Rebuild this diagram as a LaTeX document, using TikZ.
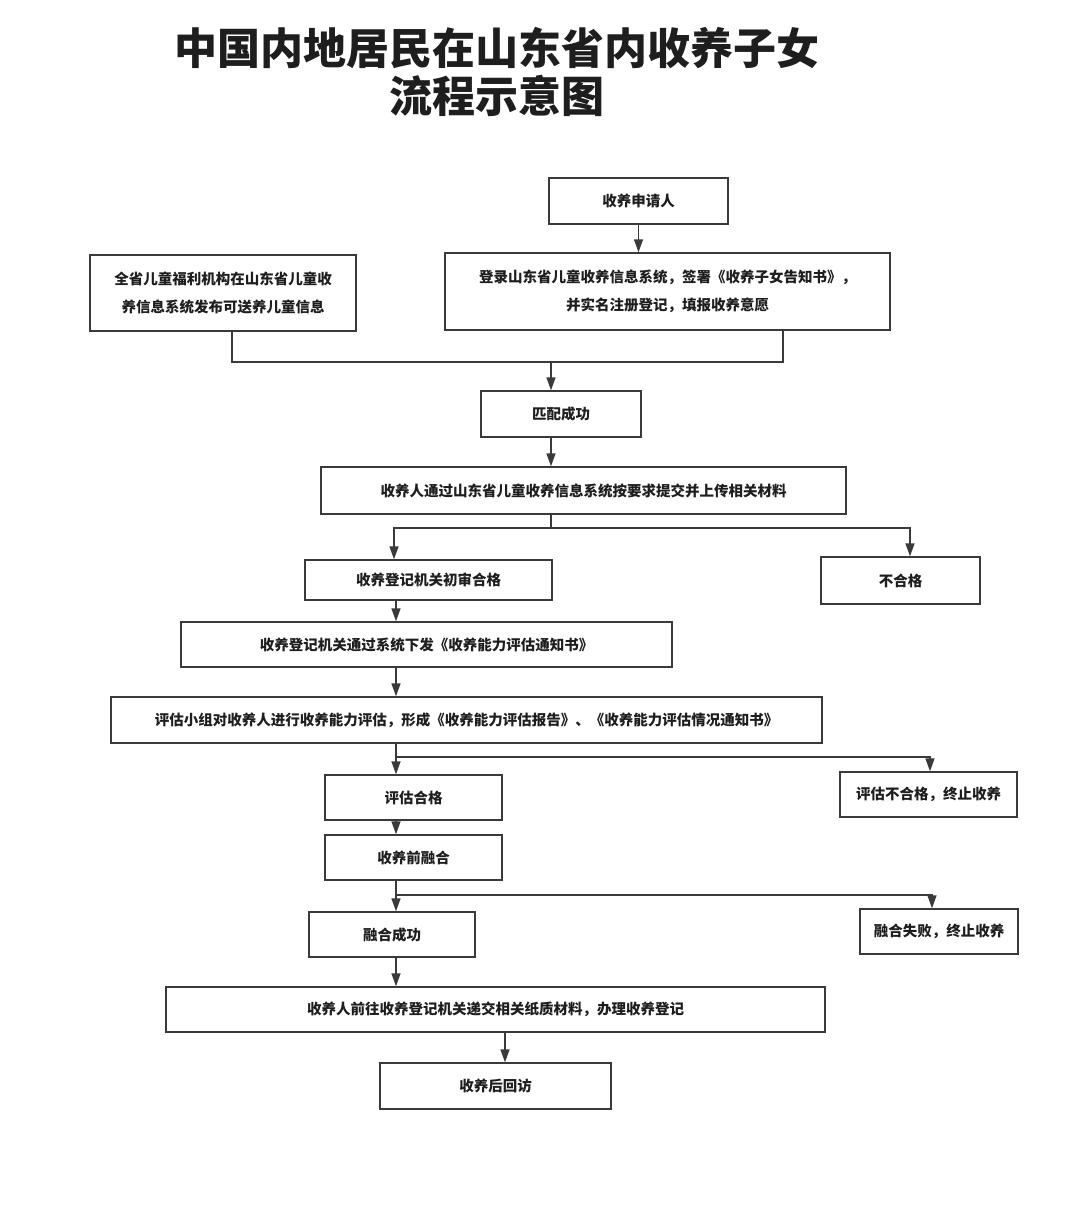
\documentclass[tikz,border=0pt]{standalone}
\usepackage{fontspec}
\newfontfamily\cjk{Noto Sans CJK SC}
\usetikzlibrary{arrows.meta}
\definecolor{linec}{HTML}{3A3A3A}
\definecolor{textc}{HTML}{1E1E1E}
\tikzset{
  box/.style={draw=linec, line width=1.4pt, rectangle, inner sep=0pt, align=center,
    text=textc, font=\cjk\bfseries\fontsize{14.5}{28}\selectfont},
  conn/.style={draw=linec, line width=1.4pt},
  arr/.style={conn, -{Triangle[length=13pt,width=9pt]}},
}
\begin{document}
\begin{tikzpicture}[x=1pt,y=-1pt]
\useasboundingbox[fill=white] (0,0) rectangle (1080,1210);
% title
\node[text=textc, font=\cjk\bfseries\fontsize{43}{48}\selectfont] (t1) at (497,48) {中国内地居民在山东省内收养子女};
\node[text=textc, font=\cjk\bfseries\fontsize{43}{48}\selectfont] (t2) at (497,96) {流程示意图};
% boxes
\node[box, minimum width=179pt, minimum height=46pt] (apply) at (638.5,201) {收养申请人};
\node[box, minimum width=266pt, minimum height=76pt] (left) at (223,293) {全省儿童福利机构在山东省儿童收\\养信息系统发布可送养儿童信息};
\node[box, minimum width=445pt, minimum height=77pt] (right) at (667.5,291.5) {登录山东省儿童收养信息系统，签署《收养子女告知书》，\\并实名注册登记，填报收养意愿};
\node[box, minimum width=160pt, minimum height=46pt] (match) at (561,414) {匹配成功};
\node[box, minimum width=525pt, minimum height=47pt] (upload) at (583.5,490.5) {收养人通过山东省儿童收养信息系统按要求提交并上传相关材料};
\node[box, minimum width=247pt, minimum height=40pt] (pass1) at (428.5,580) {收养登记机关初审合格};
\node[box, minimum width=159pt, minimum height=47pt] (fail1) at (900.5,580.5) {不合格};
\node[box, minimum width=491pt, minimum height=45pt] (notice) at (426.5,644.5) {收养登记机关通过系统下发《收养能力评估通知书》};
\node[box, minimum width=711pt, minimum height=46pt] (assess) at (466.5,720) {评估小组对收养人进行收养能力评估，形成《收养能力评估报告》、《收养能力评估情况通知书》};
\node[box, minimum width=177pt, minimum height=45pt] (ok2) at (413.5,797.5) {评估合格};
\node[box, minimum width=177pt, minimum height=45pt] (fail2) at (928.5,794.5) {评估不合格，终止收养};
\node[box, minimum width=177pt, minimum height=45pt] (pre) at (413.5,857.5) {收养前融合};
\node[box, minimum width=166pt, minimum height=45pt] (ok3) at (392,934.5) {融合成功};
\node[box, minimum width=158pt, minimum height=45pt] (fail3) at (939,931.5) {融合失败，终止收养};
\node[box, minimum width=659pt, minimum height=45pt] (register) at (495.5,1009.5) {收养人前往收养登记机关递交相关纸质材料，办理收养登记};
\node[box, minimum width=231pt, minimum height=46pt] (visit) at (495.5,1086) {收养后回访};
% column coordinates
\coordinate (cL) at (232,362);
\coordinate (cR) at (783,362);
\coordinate (cM) at (551,362);
\coordinate (s1) at (551,528);
\coordinate (c394) at (394,0);
\coordinate (c396) at (396,0);
\coordinate (c910) at (910,0);
\coordinate (s2) at (396,757);
\coordinate (c930) at (930,0);
\coordinate (s3) at (396,895);
\coordinate (c932) at (932,0);
\coordinate (c505) at (505,0);
% connectors
\draw[arr] (apply) -- (right.north -| apply);
\draw[conn] (left.south -| cL) -- (cL) -- (cR) -- (right.south -| cR);
\draw[arr] (cM) -- (match.north -| cM);
\draw[arr] (match.south -| cM) -- (upload.north -| cM);
\draw[conn] (upload.south -| s1) -- (s1);
\draw[arr] (s1) -| (pass1.north -| c394);
\draw[arr] (s1) -| (fail1.north -| c910);
\draw[arr] (pass1.south -| c396) -- (notice.north -| c396);
\draw[arr] (notice.south -| c396) -- (assess.north -| c396);
\draw[conn] (assess.south -| s2) -- (s2);
\draw[arr] (s2) -- (ok2.north -| s2);
\draw[arr] (s2) -| (fail2.north -| c930);
\draw[arr] (ok2.south -| c396) -- (pre.north -| c396);
\draw[conn] (pre.south -| s3) -- (s3);
\draw[arr] (s3) -- (ok3.north -| s3);
\draw[arr] (s3) -| (fail3.north -| c932);
\draw[arr] (ok3.south -| c396) -- (register.north -| c396);
\draw[arr] (register.south -| c505) -- (visit.north -| c505);
\end{tikzpicture}
\end{document}
